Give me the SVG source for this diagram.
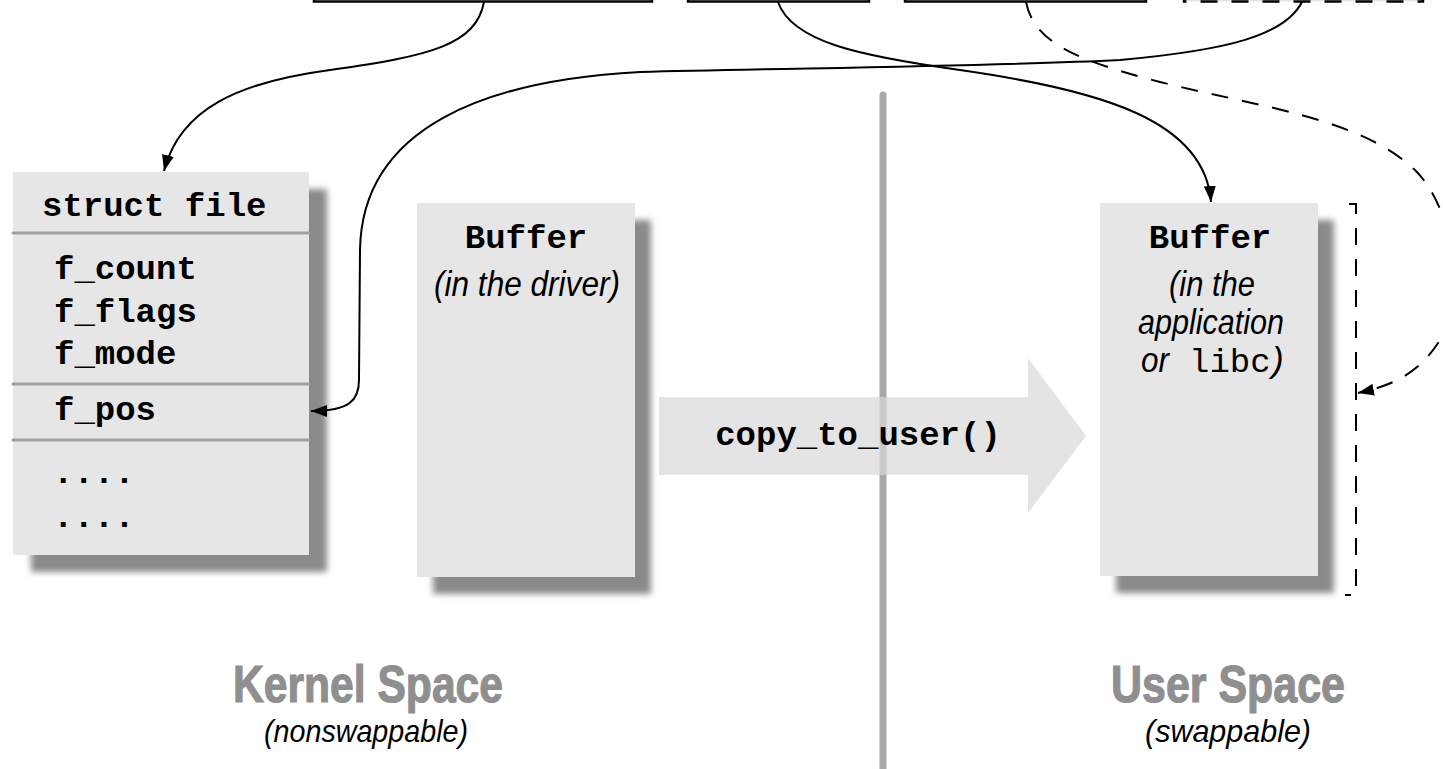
<svg xmlns="http://www.w3.org/2000/svg" width="1443" height="769" viewBox="0 0 1443 769">
<style>
.mono{font-family:"Liberation Mono","DejaVu Sans Mono",monospace;font-weight:bold;font-size:34px;fill:#000}
.monor{font-family:"Liberation Mono","DejaVu Sans Mono",monospace;font-weight:normal;font-size:34px;fill:#000}
.it{font-family:"Liberation Sans",Arial,sans-serif;font-style:italic;font-size:35px;fill:#000}
.sub{font-size:32px}
.space{font-family:"Liberation Sans",Arial,sans-serif;font-weight:bold;font-size:52px;fill:#8f8f8f;stroke:#8f8f8f;stroke-width:1.2}
.box{fill:#e6e6e6}
.shadow{fill:#8a8a8a;filter:url(#blur)}
.div{stroke:#a0a0a0;stroke-width:3;stroke-linecap:round}
.top{fill:#fff;stroke:#000;stroke-width:2.5}
.conn{fill:none;stroke:#000;stroke-width:2}
.dash{stroke-dasharray:17 14}
</style>
<defs>
<filter id="blur" x="-10%" y="-10%" width="120%" height="120%"><feGaussianBlur stdDeviation="3"/></filter>
<marker id="ah" viewBox="0 0 16 12" refX="16" refY="6" markerWidth="16" markerHeight="12" markerUnits="userSpaceOnUse" orient="auto"><path d="M0,0 L16,6 L0,12 z" fill="#000"/></marker>
</defs>
<rect width="1443" height="769" fill="#fff"/>

<g id="top-box-1"><rect class="top" x="314" y="-50" width="338" height="51.5"/></g>
<g id="top-box-2"><rect class="top" x="688" y="-50" width="181" height="51.5"/></g>
<g id="top-box-3"><rect class="top" x="905" y="-50" width="241" height="51.5"/></g>
<g id="top-box-4"><rect x="1184" y="-50" width="239" height="51.5" fill="#e6e6e6" stroke="#000" stroke-width="2.5" class="dash"/></g>

<g id="separator"><line x1="883" y1="95" x2="883" y2="775" stroke="#a8a8a8" stroke-width="7" stroke-linecap="round"/></g>

<g id="struct-file">
<rect class="shadow" x="31" y="189" width="296" height="383"/>
<rect class="box" x="13" y="172" width="296" height="383"/>
<line class="div" x1="13" y1="233" x2="309" y2="233"/>
<line class="div" x1="13" y1="384" x2="309" y2="384"/>
<line class="div" x1="13" y1="440" x2="309" y2="440"/>
<text class="mono" x="42" y="216">struct file</text>
<text class="mono" x="54" y="279">f_count</text>
<text class="mono" x="54" y="322">f_flags</text>
<text class="mono" x="54" y="364">f_mode</text>
<text class="mono" x="54" y="420">f_pos</text>
<text class="mono" x="53" y="483">....</text>
<text class="mono" x="53" y="527">....</text>
</g>

<g id="driver-buffer">
<rect class="shadow" x="433" y="220" width="218" height="374"/>
<rect class="box" x="417" y="203" width="218" height="374"/>
<text class="mono" x="526" y="248" text-anchor="middle">Buffer</text>
<text class="it" x="527" y="296" text-anchor="middle" textLength="186" lengthAdjust="spacingAndGlyphs">(in the driver)</text>
</g>

<g id="user-buffer">
<rect class="shadow" x="1116" y="220" width="218" height="373"/>
<rect class="box" x="1100" y="203" width="218" height="373"/>
<text class="mono" x="1210" y="248" text-anchor="middle">Buffer</text>
<text class="it" x="1212" y="296" text-anchor="middle" textLength="86" lengthAdjust="spacingAndGlyphs">(in the</text>
<text class="it" x="1211" y="334" text-anchor="middle" textLength="146" lengthAdjust="spacingAndGlyphs">application</text>
<text y="372"><tspan class="it" x="1141" textLength="28" lengthAdjust="spacingAndGlyphs">or</tspan><tspan class="monor" x="1189">libc</tspan><tspan class="it" x="1272">)</tspan></text>
</g>

<g id="copy-to-user">
<polygon points="659,397 1028,397 1028,358 1086,436 1028,513 1028,475 659,475" fill="#d9d9d9" fill-opacity="0.7"/>
<text class="mono" x="858" y="445" text-anchor="middle">copy_to_user()</text>
</g>

<g id="user-bracket"><path class="conn dash" d="M1349,204 H1356 V595 H1345"/></g>

<g id="kernel-label">
<text class="space" x="368" y="702" text-anchor="middle" textLength="270" lengthAdjust="spacingAndGlyphs">Kernel Space</text>
<text class="it sub" x="366" y="742" text-anchor="middle" textLength="204" lengthAdjust="spacingAndGlyphs">(nonswappable)</text>
</g>
<g id="user-label">
<text class="space" x="1228" y="702" text-anchor="middle" textLength="234" lengthAdjust="spacingAndGlyphs">User Space</text>
<text class="it sub" x="1228" y="742" text-anchor="middle" textLength="166" lengthAdjust="spacingAndGlyphs">(swappable)</text>
</g>

<g id="connectors">
<path class="conn" marker-end="url(#ah)" d="M484,2 C476,45 430,56 330,70 C240,82 180,108 164,171"/>
<path class="conn" marker-end="url(#ah)" d="M778,2 C792,42 860,56 960,70 C1100,90 1205,120 1211,202"/>
<path class="conn" marker-end="url(#ah)" d="M1302,2 C1285,35 1230,50 1120,60 C1000,66 800,68 640,72 C490,80 362,125 360,250 L359,380 C359,400 350,411 311,411"/>
<path class="conn dash" marker-end="url(#ah)" d="M1026,2 C1034,42 1075,60 1160,82 C1260,107 1360,118 1415,170 C1455,210 1462,290 1440,340 C1420,372 1395,385 1358,393"/>
</g>
</svg>
